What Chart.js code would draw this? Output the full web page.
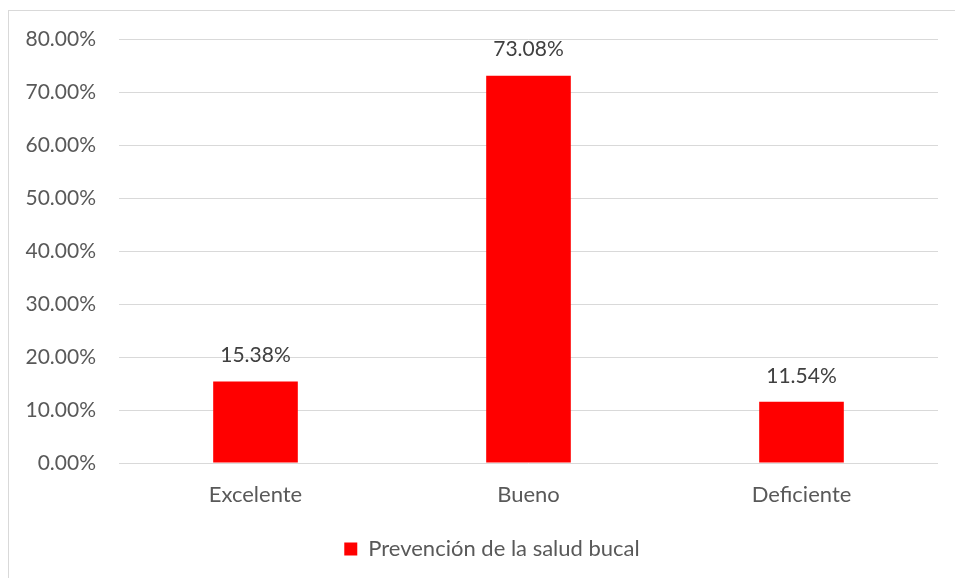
<!DOCTYPE html>
<html>
<head>
<meta charset="utf-8">
<script src="https://cdn.jsdelivr.net/npm/chart.js@4"></script>
<style>
  html, body { margin: 0; padding: 0; background: #fff; overflow: hidden; }
  #frame { position: absolute; left: 8px; top: 10px; width: 1000px; height: 620px; border: 1px solid #d9d9d9; }
  #wrap { position: absolute; left: 0; top: 0; width: 955px; height: 578px; }
</style>
</head>
<body>
<div id="frame"></div>
<div id="wrap"><canvas id="saludChart" width="955" height="578"></canvas></div>
<script>
const categories = ['Excelente', 'Bueno', 'Deficiente'];
const values = [15.38, 73.08, 11.54];
const seriesName = 'Prevención de la salud bucal';
const yTicks = [0, 10, 20, 30, 40, 50, 60, 70, 80];

const fontFamily = 'Lato, "Open Sans", sans-serif';

// draws the % value above each bar
const barValueLabels = {
    id: 'barValueLabels',
    afterDatasetsDraw(chart) {
        const { ctx: c } = chart;
        const meta = chart.getDatasetMeta(0);
        c.save();
        c.font = '21px ' + fontFamily;
        c.fillStyle = '#404040';
        c.textAlign = 'center';
        c.textBaseline = 'middle';
        meta.data.forEach((bar, i) => {
            c.fillText(values[i].toFixed(2) + '%', bar.x, bar.y - 26);
        });
        c.restore();
    }
};

// legend sits a bit right of canvas centre, like the original
const legendShift = {
    id: 'legendShift',
    afterLayout(chart) {
        if (chart.legend) chart.legend.left += 46;
    }
};

const ctx = document.getElementById('saludChart').getContext('2d');

new Chart(ctx, {
    type: 'bar',
    data: {
        labels: categories,
        datasets: [{
            label: seriesName,
            data: values,
            backgroundColor: '#ff0000',
            borderWidth: 0,
            barPercentage: 0.62,
            categoryPercentage: 0.5,
        }]
    },
    options: {
        responsive: false,
        animation: false,
        layout: { padding: { top: 39, right: 17, left: 0, bottom: 8 } },
        plugins: {
            legend: {
                position: 'bottom',
                labels: {
                    color: '#595959',
                    font: { size: 22, family: fontFamily },
                    boxWidth: 13,
                    boxHeight: 13,
                    padding: 12,
                }
            },
            tooltip: { enabled: false }
        },
        scales: {
            x: {
                grid: { display: false },
                border: { display: false },
                ticks: {
                    color: '#595959',
                    font: { size: 22, family: fontFamily },
                    padding: 11,
                },
                afterFit: (scale) => { scale.height = 63; }
            },
            y: {
                min: 0,
                max: 80,
                afterBuildTicks: (scale) => { scale.ticks = yTicks.map(v => ({ value: v })); },
                afterFit: (scale) => { scale.width = 119; },
                grid: { color: '#d9d9d9', lineWidth: 1, drawTicks: false },
                border: { display: false },
                ticks: {
                    color: '#595959',
                    font: { size: 21, family: fontFamily },
                    padding: 23,
                    callback: (val) => val.toFixed(2) + '%',
                }
            }
        }
    },
    plugins: [barValueLabels, legendShift]
});
</script>
</body>
</html>
